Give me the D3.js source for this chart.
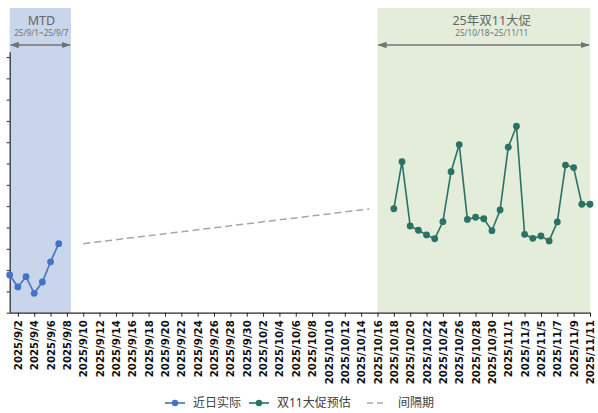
<html>
<head>
<meta charset="utf-8">
<title>双11大促预估</title>
<style type="text/css">
    body{margin:0;background:#fff;}
    #chart{display:block;}
    text{font-family:"Noto Sans","Noto Sans CJK SC",sans-serif;}
</style>
<script type="text/javascript" src="https://cdn.jsdelivr.net/npm/d3@7/dist/d3.min.js"></script>
</head>
<body>
<svg id="chart"></svg>
<script type="text/javascript">
// daily values (y axis has no labels, units are tick steps)
var actualDates=["2025-09-01","2025-09-02","2025-09-03","2025-09-04","2025-09-05","2025-09-06","2025-09-07"];
var actualValues=[1.77,1.21,1.69,0.91,1.44,2.39,3.24];

var promoDates=["2025-10-18","2025-10-19","2025-10-20","2025-10-21","2025-10-22","2025-10-23","2025-10-24",
    "2025-10-25","2025-10-26","2025-10-27","2025-10-28","2025-10-29","2025-10-30","2025-10-31",
    "2025-11-01","2025-11-02","2025-11-03","2025-11-04","2025-11-05","2025-11-06","2025-11-07",
    "2025-11-08","2025-11-09","2025-11-10","2025-11-11"];
var promoValues=[4.88,7.09,4.07,3.87,3.65,3.47,4.27,6.62,7.89,4.38,4.48,4.41,3.85,4.82,
    7.77,8.75,3.68,3.49,3.60,3.37,4.26,6.93,6.81,5.09,5.09];

var gapDates=["2025-09-10","2025-10-15"];
var gapValues=[3.24,4.87];

var regionNames=["MTD","25年双11大促"];
var regionSubs=["25/9/1~25/9/7","25/10/18~25/11/11"];
var regionStart=["2025-09-01","2025-10-16"];
var regionEnd=["2025-09-08T12:00","2025-11-11"];

var seriesNames=["近日实际","双11大促预估","间隔期"];

var width=598,height=413;
var parse=d3.isoParse;
var svg=d3.select("#chart").attr("width",width).attr("height",height);

var x=d3.scaleTime().domain([parse("2025-09-01"),parse("2025-11-11")]).range([9.7,590]);
var y=d3.scaleLinear().domain([0,12.25]).range([312.7,51.7]);

var fills=["#c9d5ea","#e3edd9"];
var blue="#4472c4",green="#2b7266",gray="#a6a6a6";

// shaded periods
var regions=regionNames.map(function(n,i){
    return {name:n,sub:regionSubs[i],s:parse(regionStart[i]),e:parse(regionEnd[i]),fill:fills[i]};
});
svg.selectAll("rect.region").data(regions).enter().append("rect")
    .attr("class","region")
    .attr("x",function(d){return x(d.s);})
    .attr("y",8)
    .attr("width",function(d){return x(d.e)-x(d.s);})
    .attr("height",y(0)-8)
    .attr("fill",function(d){return d.fill;});

// double arrows
var defs=svg.append("defs");
["a-start","a-end"].forEach(function(id,i){
    defs.append("marker").attr("id",id).attr("viewBox","0 0 10 10")
        .attr("refX",i?9:1).attr("refY",5).attr("markerWidth",6).attr("markerHeight",6)
        .attr("orient","auto")
        .append("path").attr("d",i?"M0,1.5L10,5L0,8.5Z":"M10,1.5L0,5L10,8.5Z").attr("fill","#737373");
});
svg.selectAll("line.span").data(regions).enter().append("line")
    .attr("x1",function(d){return x(d.s)+1;})
    .attr("x2",function(d){return x(d.e)-1;})
    .attr("y1",45).attr("y2",45)
    .attr("stroke","#737373").attr("stroke-width",1.5)
    .attr("marker-start","url(#a-start)").attr("marker-end","url(#a-end)");

svg.selectAll("text.rname").data(regions).enter().append("text")
    .attr("x",function(d,i){return (x(d.s)+x(d.e))/2+(i?8:1);})
    .attr("y",24.5).attr("text-anchor","middle")
    .attr("font-size",12.5).attr("fill","#666")
    .text(function(d){return d.name;});
svg.selectAll("text.rsub").data(regions).enter().append("text")
    .attr("x",function(d,i){return (x(d.s)+x(d.e))/2+(i?8:1);})
    .attr("y",36).attr("text-anchor","middle")
    .attr("font-size",8.2).attr("fill","#737373")
    .text(function(d){return d.sub;});

// axes
var ticks=[];
for(var k=1;k<=71;k+=2){ticks.push(d3.timeDay.offset(parse("2025-09-01"),k));}
var fmt=d3.timeFormat("%Y/%-m/%-d");

var yAxis=svg.append("g").attr("transform","translate("+x(parse("2025-09-01"))+",0)")
    .call(d3.axisLeft(y).tickValues(d3.range(0,13)).tickSize(3).tickSizeOuter(0).tickFormat(""));
var xAxis=svg.append("g").attr("transform","translate(0,"+y(0)+")")
    .call(d3.axisBottom(x).tickValues(ticks).tickSize(4).tickSizeOuter(0).tickFormat(fmt));
[yAxis,xAxis].forEach(function(g){
    g.select(".domain").attr("stroke","#262626").attr("stroke-width",1.2);
    g.selectAll(".tick line").attr("stroke","#262626");
});
xAxis.selectAll("text")
    .attr("transform","rotate(-90)")
    .attr("x",-7.5).attr("y",0).attr("dy","0.35em")
    .attr("text-anchor","end")
    .style("font-family","'DejaVu Sans',sans-serif")
    .attr("font-weight","bold").attr("font-size",10.2).attr("fill","#111");

// series
var line=d3.line().x(function(d){return x(d.date);}).y(function(d){return y(d.value);});
function pts(dates,vals){return dates.map(function(d,i){return {date:parse(d),value:vals[i]};});}
var actual=pts(actualDates,actualValues),promo=pts(promoDates,promoValues),gap=pts(gapDates,gapValues);

svg.append("path").datum(gap).attr("d",line).attr("fill","none")
    .attr("stroke",gray).attr("stroke-width",1.5).attr("stroke-dasharray","7,4");

[[actual,blue],[promo,green]].forEach(function(s){
    svg.append("path").datum(s[0]).attr("d",line).attr("fill","none")
        .attr("stroke",s[1]).attr("stroke-width",1.6);
    svg.append("g").selectAll("circle").data(s[0]).enter().append("circle")
        .attr("cx",function(d){return x(d.date);})
        .attr("cy",function(d){return y(d.value);})
        .attr("r",3.4).attr("fill",s[1]);
});

// legend
var legend=[{name:seriesNames[0],c:blue,x:165,dot:true},
            {name:seriesNames[1],c:green,x:249,dot:true},
            {name:seriesNames[2],c:gray,x:367,dot:false}];
var lg=svg.append("g").selectAll("g").data(legend).enter().append("g")
    .attr("transform",function(d){return "translate("+d.x+",403)";});
lg.append("line").attr("x1",0).attr("x2",20).attr("y1",0).attr("y2",0)
    .attr("stroke",function(d){return d.c;}).attr("stroke-width",1.6)
    .attr("stroke-dasharray",function(d){return d.dot?null:"6,4";});
lg.filter(function(d){return d.dot;}).append("circle").attr("cx",10).attr("cy",0).attr("r",3.2)
    .attr("fill",function(d){return d.c;});
lg.append("text").attr("x",function(d){return d.dot?28:31;}).attr("y",0).attr("dy","0.35em")
    .attr("font-size",12).attr("fill","#404040")
    .text(function(d){return d.name;});
</script>
</body>
</html>
